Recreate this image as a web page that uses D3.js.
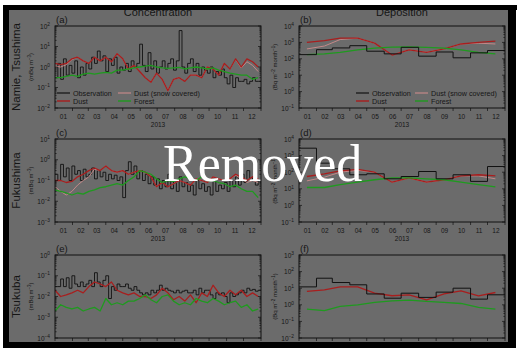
<!DOCTYPE html>
<html lang="en">
<head>
<meta charset="utf-8">
<title>Concentration and deposition 2013</title>
<script src="https://cdn.jsdelivr.net/npm/d3@7"></script>
<style>
body { margin: 0; background: #fff; }
text { font-family: "Liberation Sans", Arial, sans-serif; fill: #161616; }
</style>
</head>
<body>
<svg id="chart" width="517" height="350"></svg>
<script>

// ---------- data

var monthLabels = ["01","02","03","04","05","06","07","08","09","10","11","12"];
var rowNames = ["Namie, Tsushima", "Fukushima", "Tsukuba"];

// concentration, observations every 5 days (mBq m-3)
var obsA = [0.3,1.5,0.25,2.5,0.4,1.2, 0.5,2.0,0.3,1.0,0.4,1.5, 0.8,3.0,1.5,6.0,2.0,3.5,
            0.6,2.5,1.2,3.0,0.5,1.0, 0.7,1.5,0.6,2.0,1.0,1.5, 13,1.2,0.6,5.0,0.8,2.0,
            0.5,1.0,2.0,0.8,1.5,2.5, 0.7,2.0,60,1.0,0.5,1.5, 2.5,0.6,1.5,0.4,1.0,0.7,
            0.5,1.0,0.3,0.6,0.4,0.8, 0.3,0.15,0.4,0.1,0.3,0.2, 0.2,0.25,0.15,0.2,0.3,0.2,0.2];
var obsC = [0.2,0.1,0.6,0.15,0.4,0.1, 0.5,0.2,0.3,0.1,0.35,0.15, 0.2,0.4,0.12,0.3,0.15,0.25,
            0.1,0.2,0.12,0.18,0.1,0.15, 0.015,0.3,0.8,0.2,0.5,0.12, 0.3,0.1,0.2,0.07,0.15,0.06,
            0.12,0.04,0.1,0.05,0.2,0.04, 0.1,0.03,0.15,0.05,0.08,0.03, 0.06,0.02,0.1,0.04,0.07,0.03,
            0.05,0.02,0.1,0.03,0.06,0.04, 0.08,0.03,0.1,0.05,0.15,0.06, 0.2,0.08,0.3,0.1,0.15,0.06,0.1];
var obsE = [0.03,0.03,0.07,0.03,0.08,0.025, 0.1,0.04,0.03,0.05,0.03,0.04, 0.06,0.03,0.14,0.05,0.03,0.06,
            0.1,0.008,0.03,0.02,0.04,0.03, 0.03,0.04,0.025,0.02,0.03,0.02, 0.015,0.012,0.015,0.012,0.02,0.015,
            0.02,0.035,0.02,0.025,0.02,0.018, 0.015,0.02,0.015,0.018,0.02,0.015, 0.015,0.02,0.012,0.025,0.015,0.02,
            0.02,0.012,0.008,0.015,0.012,0.015, 0.01,0.005,0.015,0.01,0.012,0.015, 0.02,0.015,0.025,0.02,0.022,0.018,0.02];

// concentration, model every 10 days
var dustA   = [1.5,1.3,1.5,2.5,3.0,2.0,1.5,3.0,2.0,3.0,1.8,4.5,2.5,0.8,1.2,0.6,0.3,0.18,0.5,
               0.25,0.07,0.25,0.3,0.2,0.4,0.4,0.3,1.0,0.8,0.4,1.5,0.8,2.5,1.0,2.5,1.8,1.0];
var dustSnowA = [1.1,1.0,1.3,2.3,3.0,2.0,1.5,3.0,2.0,3.0,1.8,4.5,2.5,0.8,1.2,0.6,0.3,0.18,0.5,
               0.25,0.07,0.25,0.3,0.2,0.4,0.4,0.3,1.0,0.8,0.4,1.5,0.8,2.3,0.9,1.8,1.2,0.6];
var forestA = [0.3,0.3,0.35,0.4,0.35,0.45,0.5,0.45,0.5,0.55,0.5,0.7,0.7,0.8,0.9,1.0,1.1,1.2,1.0,
               0.9,0.85,0.9,0.95,0.8,0.9,1.0,0.9,0.8,0.9,0.7,0.6,0.5,0.45,0.4,0.4,0.25,0.3];

var dustC   = [0.1,0.1,0.08,0.09,0.15,0.2,0.3,0.4,0.3,0.5,0.3,0.25,0.3,0.2,0.25,0.3,0.25,0.15,0.05,
               0.08,0.05,0.07,0.1,0.08,0.06,0.12,0.1,0.08,0.15,0.12,0.1,0.12,0.2,0.15,0.1,0.15,0.12];
var dustSnowC = [0.05,0.03,0.02,0.03,0.06,0.1,0.15,0.35,0.3,0.5,0.3,0.25,0.3,0.2,0.25,0.3,0.25,0.15,0.05,
               0.08,0.05,0.07,0.1,0.08,0.06,0.12,0.1,0.08,0.15,0.12,0.1,0.12,0.18,0.12,0.08,0.1,0.08];
var forestC = [0.035,0.03,0.025,0.02,0.025,0.022,0.03,0.035,0.045,0.05,0.06,0.07,0.06,0.1,0.15,0.3,0.25,0.2,0.12,
               0.08,0.1,0.09,0.12,0.15,0.12,0.1,0.15,0.1,0.1,0.08,0.07,0.05,0.06,0.04,0.03,0.03,0.015];

var dustE   = [0.02,0.01,0.012,0.015,0.02,0.015,0.03,0.05,0.04,0.03,0.05,0.02,0.015,0.012,0.015,0.01,0.01,0.008,0.012,
               0.025,0.015,0.007,0.01,0.006,0.012,0.005,0.015,0.01,0.035,0.015,0.01,0.02,0.012,0.02,0.01,0.015,0.01];
var forestE = [0.002,0.004,0.003,0.0025,0.003,0.002,0.0025,0.003,0.002,0.008,0.004,0.005,0.004,0.006,0.006,0.008,0.012,0.007,0.005,
               0.01,0.012,0.006,0.004,0.005,0.004,0.008,0.006,0.005,0.008,0.006,0.004,0.005,0.006,0.003,0.004,0.002,0.0025];

// deposition, monthly (Bq m-2 month-1)
var obsB      = [180,360,460,630,290,200,500,145,260,115,230,320];
var dustB     = [1000,1300,1800,1800,900,170,350,250,400,800,1000,1200];
var dustSnowB = [400,600,1500,1800,900,170,350,250,400,800,900,800];
var forestB   = [180,200,250,350,450,520,540,500,450,350,250,200];

var obsD      = [2800,350,160,70,80,40,55,110,40,70,28,220];
var dustD     = [55,80,120,150,100,25,45,25,35,60,70,60];
var dustSnowD = [30,50,100,130,100,25,45,25,35,60,60,40];
var forestD   = [12,12,18,25,35,45,45,40,35,25,18,13];

var obsF      = [12,40,22,16,4.5,2.5,5,2.8,5.8,10,2.2,4];
var dustF     = [6.5,8,12,12,5,3.5,4,2,4.5,7,3.5,5.5];
var forestF   = [0.55,0.45,0.8,1,1.4,1.7,1.9,1.6,1.4,1.2,0.7,0.55];

// ---------- layout

var colors = { obs: "#111", dust: "#a81e1e", snow: "#c48888", forest: "#1f9a1f" };
var cols = [[55, 261], [299, 505]];
var rows = [[26, 108], [139, 222], [255, 338]];
var t0 = new Date(2013, 0, 1), t1 = new Date(2014, 0, 1);

var svg = d3.select("#chart");

// background
svg.append("rect").attr("x", 9).attr("y", 10).attr("width", 499).attr("height", 332).attr("fill", "#6b6b6b");

function every(n, days) {
	return function(v, i) { return { t: new Date(2013, 0, 1 + i * days), v: v }; };
}
function monthly(v, i) { return { t: new Date(2013, i, 15), v: v }; }
function stepSeries(arr, days) {
	var pts = arr.map(every(0, days));
	pts.push({ t: t1, v: arr[arr.length - 1] });
	return pts;
}
function monthSteps(arr) {
	var pts = arr.map(function(v, i) { return { t: new Date(2013, i, 1), v: v }; });
	pts.push({ t: t1, v: arr[arr.length - 1] });
	return pts;
}

var panels = [
	{ id: "a", col: 0, row: 0, dom: [1e-2, 1e2], unit: "conc",
	  lines: [
		{ d: stepSeries(obsA, 5), c: colors.obs, w: 0.9, step: true },
		{ d: dustSnowA.map(every(0, 10)), c: colors.snow, w: 1 },
		{ d: dustA.map(every(0, 10)), c: colors.dust, w: 1.3 },
		{ d: forestA.map(every(0, 10)), c: colors.forest, w: 1.3 } ] },
	{ id: "b", col: 1, row: 0, dom: [1e-1, 1e4], unit: "dep",
	  lines: [
		{ d: dustSnowB.map(monthly), c: colors.snow, w: 1 },
		{ d: dustB.map(monthly), c: colors.dust, w: 1.3 },
		{ d: forestB.map(monthly), c: colors.forest, w: 1.3 },
		{ d: monthSteps(obsB), c: colors.obs, w: 1, step: true } ] },
	{ id: "c", col: 0, row: 1, dom: [1e-3, 1e1], unit: "conc",
	  lines: [
		{ d: stepSeries(obsC, 5), c: colors.obs, w: 0.9, step: true },
		{ d: dustSnowC.map(every(0, 10)), c: colors.snow, w: 1 },
		{ d: dustC.map(every(0, 10)), c: colors.dust, w: 1.3 },
		{ d: forestC.map(every(0, 10)), c: colors.forest, w: 1.3 } ] },
	{ id: "d", col: 1, row: 1, dom: [1e-1, 1e4], unit: "dep",
	  lines: [
		{ d: dustSnowD.map(monthly), c: colors.snow, w: 1 },
		{ d: dustD.map(monthly), c: colors.dust, w: 1.3 },
		{ d: forestD.map(monthly), c: colors.forest, w: 1.3 },
		{ d: monthSteps(obsD), c: colors.obs, w: 1, step: true } ] },
	{ id: "e", col: 0, row: 2, dom: [1e-4, 1e0], unit: "conc",
	  lines: [
		{ d: stepSeries(obsE, 5), c: colors.obs, w: 0.9, step: true },
		{ d: dustE.map(every(0, 10)), c: colors.dust, w: 1.3 },
		{ d: forestE.map(every(0, 10)), c: colors.forest, w: 1.3 } ] },
	{ id: "f", col: 1, row: 2, dom: [1e-2, 1e3], unit: "dep",
	  lines: [
		{ d: forestF.map(monthly), c: colors.forest, w: 1.3 },
		{ d: dustF.map(monthly), c: colors.dust, w: 1.3 },
		{ d: monthSteps(obsF), c: colors.obs, w: 1, step: true } ] }
];

panels.forEach(function(p) {
	var x0 = cols[p.col][0], x1 = cols[p.col][1];
	var y0 = rows[p.row][0], y1 = rows[p.row][1];

	var x = d3.scaleTime().domain([t0, t1]).range([x0, x1]);
	var y = d3.scaleLog().domain(p.dom).range([y1, y0]);

	var g = svg.append("g");

	g.append("clipPath").attr("id", "clip-" + p.id)
		.append("rect").attr("x", x0).attr("y", y0).attr("width", x1 - x0).attr("height", y1 - y0);

	// data lines
	var plot = g.append("g").attr("clip-path", "url(#clip-" + p.id + ")");
	p.lines.forEach(function(l) {
		var line = d3.line()
			.x(function(d) { return x(d.t); })
			.y(function(d) { return y(d.v); })
			.curve(l.step ? d3.curveStepAfter : d3.curveLinear);
		plot.append("path")
			.datum(l.d)
			.attr("d", line)
			.attr("fill", "none")
			.attr("stroke", l.c)
			.attr("stroke-width", l.w)
			.attr("stroke-linejoin", "round");
	});

	// log ticks left and right, inward
	var lo = Math.log10(p.dom[0]), hi = Math.log10(p.dom[1]);
	for (var k = lo; k <= hi; k++) {
		for (var m = 1; m < 10; m++) {
			var v = m * Math.pow(10, k);
			if (v > p.dom[1] * 1.0001) break;
			var len = m === 1 ? 3 : 1.6;
			var yy = y(v);
			g.append("line").attr("x1", x0).attr("x2", x0 + len).attr("y1", yy).attr("y2", yy)
				.attr("stroke", "#111").attr("stroke-width", 0.7);
			g.append("line").attr("x1", x1).attr("x2", x1 - len).attr("y1", yy).attr("y2", yy)
				.attr("stroke", "#111").attr("stroke-width", 0.7);
		}
		// label 10^k
		var lab = g.append("text")
			.attr("x", x0 - 5)
			.attr("y", y(Math.pow(10, k)) + 2.5)
			.attr("text-anchor", "end")
			.attr("font-size", "6.5px");
		lab.append("tspan").text("10");
		lab.append("tspan").attr("dy", -2.8).attr("font-size", "4.8px").text(String(k).replace("-", "\u2212"));
	}

	// month ticks and labels
	d3.timeMonth.range(t0, d3.timeDay.offset(t1, 1)).forEach(function(t) {
		g.append("line").attr("x1", x(t)).attr("x2", x(t)).attr("y1", y1).attr("y2", y1 + 3)
			.attr("stroke", "#111").attr("stroke-width", 0.7);
	});
	monthLabels.forEach(function(s, i) {
		g.append("text")
			.attr("x", x(new Date(2013, i, 16)))
			.attr("y", y1 + 10.5)
			.attr("text-anchor", "middle")
			.attr("font-size", "6.5px")
			.text(s);
	});
	// the bottom row's year label falls outside the picture
	if (p.row < 2) {
		g.append("text")
			.attr("x", (x0 + x1) / 2)
			.attr("y", y1 + 19)
			.attr("text-anchor", "middle")
			.attr("font-size", "6.5px")
			.text("2013");
	}

	// frame
	g.append("rect").attr("x", x0).attr("y", y0).attr("width", x1 - x0).attr("height", y1 - y0)
		.attr("fill", "none").attr("stroke", "#111").attr("stroke-width", 1);

	// panel letter
	g.append("text").attr("x", x0 + 1).attr("y", y0 - 3).attr("font-size", "9.5px").text("(" + p.id + ")");

	// unit label
	var unit = g.append("text")
		.attr("transform", "translate(" + (x0 - 22) + "," + ((y0 + y1) / 2) + ") rotate(-90)")
		.attr("text-anchor", "middle")
		.attr("font-size", "6px");
	if (p.unit === "conc") {
		unit.append("tspan").text("(mBq m");
		unit.append("tspan").attr("dy", -2).attr("font-size", "4.5px").text("\u22123");
		unit.append("tspan").attr("dy", 2).text(")");
	} else {
		unit.append("tspan").text("(Bq m");
		unit.append("tspan").attr("dy", -2).attr("font-size", "4.5px").text("\u22122");
		unit.append("tspan").attr("dy", 2).text(" month");
		unit.append("tspan").attr("dy", -2).attr("font-size", "4.5px").text("\u22121");
		unit.append("tspan").attr("dy", 2).text(")");
	}

	// row name
	if (p.col === 0) {
		g.append("text")
			.attr("transform", "translate(20," + ((y0 + y1) / 2) + ") rotate(-90)")
			.attr("text-anchor", "middle")
			.attr("font-size", "11.5px")
			.text(rowNames[p.row]);
	}
});

// legends in the top row
var legendItems = [
	{ name: "Observation", c: colors.obs, w: 1.2, col: 0, r: 0 },
	{ name: "Dust (snow covered)", c: colors.snow, w: 1.2, col: 1, r: 0 },
	{ name: "Dust", c: colors.dust, w: 1.4, col: 0, r: 1 },
	{ name: "Forest", c: colors.forest, w: 1.4, col: 1, r: 1 }
];
var legendPos = [ { x: [57, 118], y: 93 }, { x: [356, 415], y: 93 } ];
legendPos.forEach(function(lp) {
	legendItems.forEach(function(it) {
		var lx = lp.x[it.col], ly = lp.y + it.r * 8;
		svg.append("line").attr("x1", lx).attr("x2", lx + 13).attr("y1", ly).attr("y2", ly)
			.attr("stroke", it.c).attr("stroke-width", it.w);
		svg.append("text").attr("x", lx + 16).attr("y", ly + 2.5).attr("font-size", "7.2px").text(it.name);
	});
});

// column titles
svg.append("text").attr("x", 158).attr("y", 16).attr("text-anchor", "middle").attr("font-size", "11px").text("Concentration");
svg.append("text").attr("x", 402).attr("y", 16).attr("text-anchor", "middle").attr("font-size", "11px").text("Deposition");

// outer black frame, white margin below
svg.append("rect").attr("x", 0).attr("y", 348).attr("width", 517).attr("height", 2).attr("fill", "#fff");
svg.append("rect").attr("x", 3).attr("y", 5).attr("width", 514).attr("height", 5).attr("fill", "#000");
svg.append("rect").attr("x", 3).attr("y", 5).attr("width", 6).attr("height", 343).attr("fill", "#000");
svg.append("rect").attr("x", 3).attr("y", 342).attr("width", 510).attr("height", 6).attr("fill", "#000");
svg.append("rect").attr("x", 508).attr("y", 5).attr("width", 8).attr("height", 343).attr("fill", "#000");

// watermark
svg.append("text")
	.attr("x", 163)
	.attr("y", 181)
	.style("font-family", "'Liberation Serif', 'Times New Roman', serif")
	.style("font-size", "52px")
	.style("fill", "#fff")
	.text("Removed");

</script>
</body>
</html>
